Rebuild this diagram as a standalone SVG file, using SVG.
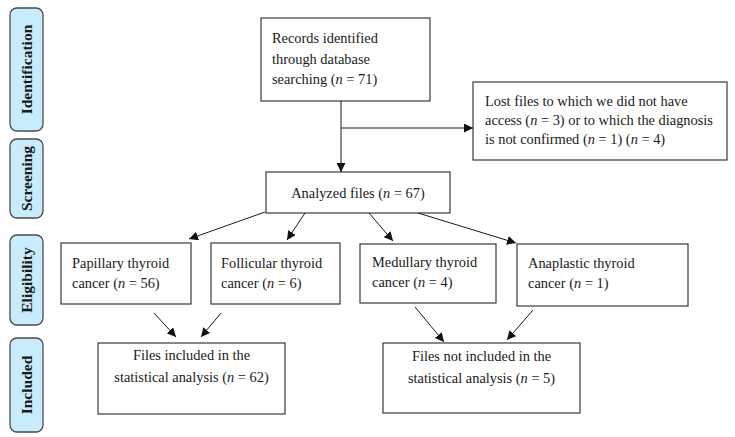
<svg xmlns="http://www.w3.org/2000/svg" width="735" height="437" viewBox="0 0 735 437">
<style>
.box{fill:#fff;stroke:#3a3a3a;stroke-width:1.2}
.side{fill:#c8ecfb;stroke:#4a4a4a;stroke-width:1.3}
.t{font-family:"Liberation Serif","Times New Roman",serif;font-size:14.4px;fill:#1a1a1a}
.c{text-anchor:middle}
.s{font-family:"Liberation Serif","Times New Roman",serif;font-size:15.5px;font-weight:bold;fill:#1a1a1a;text-anchor:middle}
.ln{stroke:#1a1a1a;stroke-width:1;fill:none;marker-end:url(#ah)}
</style>
<defs>
<marker id="ah" viewBox="0 0 10 10" refX="10" refY="5" markerWidth="9" markerHeight="9" markerUnits="userSpaceOnUse" orient="auto">
<path d="M0,0 L10,5 L0,10 z" fill="#111"/>
</marker>
</defs>
<rect width="735" height="437" fill="#fff"/>
<g id="side-identification"><rect class="side" x="10" y="8" width="33" height="123" rx="7"/><text class="s" transform="translate(32,69.5) rotate(-90)">Identification</text></g>
<g id="side-screening"><rect class="side" x="10" y="139" width="33" height="79" rx="7"/><text class="s" transform="translate(32,178.5) rotate(-90)">Screening</text></g>
<g id="side-eligibility"><rect class="side" x="10" y="235" width="33" height="90" rx="7"/><text class="s" transform="translate(32,280) rotate(-90)">Eligibility</text></g>
<g id="side-included"><rect class="side" x="10" y="338" width="33" height="94" rx="7"/><text class="s" transform="translate(32,385) rotate(-90)">Included</text></g>

<g id="records"><rect class="box" x="261" y="18" width="169" height="83"/>
<text class="t" x="272" y="43">Records identified</text>
<text class="t" x="272" y="64">through database</text>
<text class="t" x="272" y="84">searching (<tspan font-style="italic">n</tspan> = 71)</text></g>

<g id="lost"><rect class="box" x="473" y="82" width="254" height="78"/>
<text class="t" x="485" y="106">Lost files to which we did not have</text>
<text class="t" x="485" y="125">access (<tspan font-style="italic">n</tspan> = 3) or to which the diagnosis</text>
<text class="t" x="485" y="144">is not confirmed (<tspan font-style="italic">n</tspan> = 1) (<tspan font-style="italic">n</tspan> = 4)</text></g>

<g id="analyzed"><rect class="box" x="266" y="172" width="184" height="41"/>
<text class="t c" x="358" y="198">Analyzed files (<tspan font-style="italic">n</tspan> = 67)</text></g>

<g id="papillary"><rect class="box" x="61" y="243" width="130" height="61"/>
<text class="t" x="72" y="268">Papillary thyroid</text>
<text class="t" x="72" y="288">cancer (<tspan font-style="italic">n</tspan> = 56)</text></g>

<g id="follicular"><rect class="box" x="211" y="243" width="129" height="61"/>
<text class="t" x="221" y="268">Follicular thyroid</text>
<text class="t" x="221" y="288">cancer (<tspan font-style="italic">n</tspan> = 6)</text></g>

<g id="medullary"><rect class="box" x="360" y="244" width="136" height="59"/>
<text class="t" x="372" y="267">Medullary thyroid</text>
<text class="t" x="372" y="287">cancer (<tspan font-style="italic">n</tspan> = 4)</text></g>

<g id="anaplastic"><rect class="box" x="517" y="244" width="171" height="62"/>
<text class="t" x="528" y="268">Anaplastic thyroid</text>
<text class="t" x="528" y="288">cancer (<tspan font-style="italic">n</tspan> = 1)</text></g>

<g id="included"><rect class="box" x="98" y="343" width="187" height="71"/>
<text class="t c" x="191.5" y="360">Files included in the</text>
<text class="t c" x="191.5" y="382">statistical analysis (<tspan font-style="italic">n</tspan> = 62)</text></g>

<g id="not-included"><rect class="box" x="383" y="343" width="197" height="70"/>
<text class="t c" x="481.5" y="361">Files not included in the</text>
<text class="t c" x="481.5" y="383">statistical analysis (<tspan font-style="italic">n</tspan> = 5)</text></g>

<g id="connectors">
<line class="ln" x1="341" y1="101" x2="341" y2="172"/>
<line class="ln" x1="341" y1="128" x2="473" y2="128"/>
<line class="ln" x1="265" y1="212" x2="189" y2="239"/>
<line class="ln" x1="305" y1="213" x2="287" y2="240"/>
<line class="ln" x1="369" y1="213" x2="393" y2="241"/>
<line class="ln" x1="418" y1="213" x2="516" y2="243"/>
<line class="ln" x1="154" y1="313" x2="176" y2="337"/>
<line class="ln" x1="221" y1="313" x2="201" y2="337"/>
<line class="ln" x1="415" y1="307" x2="444" y2="342"/>
<line class="ln" x1="533" y1="310" x2="507" y2="340"/>
</g>
</svg>
